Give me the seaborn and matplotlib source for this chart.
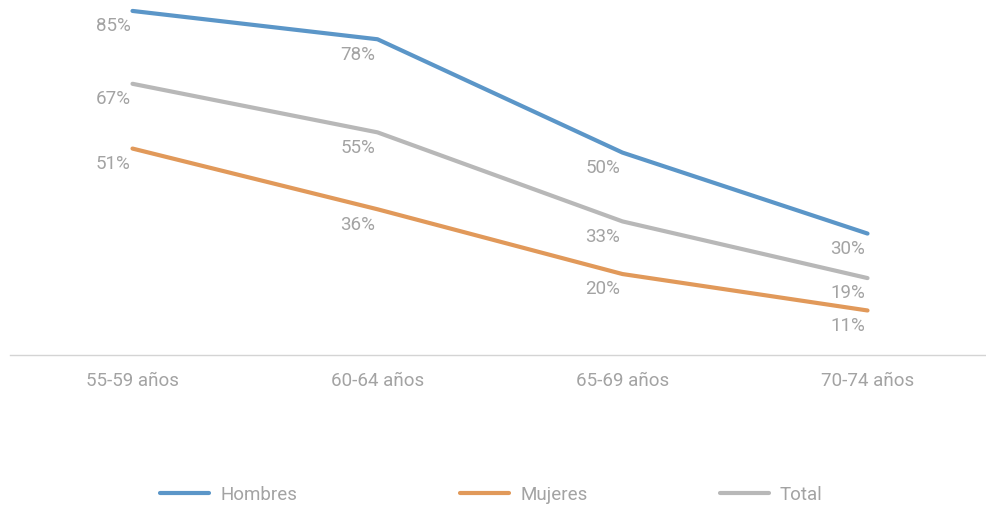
import pandas as pd
import seaborn as sns
import matplotlib.pyplot as plt
from matplotlib.lines import Line2D
from matplotlib import font_manager

edades = ['55-59 años', '60-64 años', '65-69 años', '70-74 años']
hombres = [85, 78, 50, 30]
mujeres = [51, 36, 20, 11]
total = [67, 55, 33, 19]

series = ['Hombres', 'Mujeres', 'Total']
colores = ['#5b96c8', '#e1995a', '#b8b8b8']

df = pd.DataFrame({
    'edad': edades * 3,
    'pos': list(range(4)) * 3,
    'valor': hombres + mujeres + total,
    'serie': ['Hombres'] * 4 + ['Mujeres'] * 4 + ['Total'] * 4,
})

sns.set_style('white')
nombres = {f.name for f in font_manager.fontManager.ttflist}
fam = ['Liberation Sans Narrow', 'DejaVu Sans'] if 'Liberation Sans Narrow' in nombres else ['Roboto', 'DejaVu Sans']
plt.rcParams['font.family'] = fam
gris = '#a3a3a3'

fig = plt.figure(figsize=(9.86, 5.07), dpi=100)
ax = fig.add_axes([10 / 986, 1 - 355 / 507, 980 / 986, 355 / 507])

sns.lineplot(data=df, x='pos', y='valor', hue='serie', palette=dict(zip(series, colores)),
             linewidth=3, ax=ax, legend=False)

for vals in [hombres, mujeres, total]:
    for i, v in enumerate(vals):
        ax.annotate(f'{v}%', (i, v), xytext=(-1.5, -4.5), textcoords='offset points',
                    ha='right', va='top', fontsize=13.5, color=gris)

ax.set_xlim(-0.5, 3.5)
ax.set_ylim(0, 87.7)
ax.set_xticks(range(4))
ax.set_xticklabels(edades, fontsize=13.5, color=gris)
ax.tick_params(axis='x', length=0, pad=12)
ax.set_yticks([])
ax.set_xlabel('')
ax.set_ylabel('')
for s in ['top', 'left', 'right']:
    ax.spines[s].set_visible(False)
ax.spines['bottom'].set_color('#d4d4d4')
ax.spines['bottom'].set_linewidth(1)

xs = [160, 460, 720]
for nombre, c, x in zip(series, colores, xs):
    h = Line2D([], [], color=c, linewidth=3, solid_capstyle='round')
    leg = fig.legend(handles=[h], labels=[nombre], loc='center left',
                     bbox_to_anchor=(x / 986, 1 - 495 / 507), frameon=False,
                     handlelength=2.6, handletextpad=0.6, borderaxespad=0, borderpad=0,
                     fontsize=13.5, labelcolor=gris)

fig.savefig('out.png', dpi=100)
